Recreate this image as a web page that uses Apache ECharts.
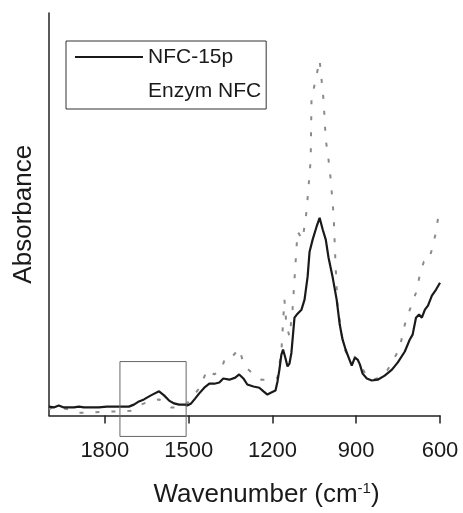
<!DOCTYPE html>
<html>
<head>
<meta charset="UTF-8">
<title>FTIR spectra</title>
<script src="https://cdn.jsdelivr.net/npm/echarts@6/dist/echarts.min.js"></script>
<style>
  html, body { margin: 0; padding: 0; background: #fff; }
  #chart { width: 463px; height: 513px; }
</style>
</head>
<body>
<div id="chart"></div>
<script>
// wavenumber (cm-1) and absorbance (arbitrary units)
const nfcWn = [2000,1983,1965,1947,1911,1893,1875,1822,1793,1750,1714,1696,1678,1660,1635,1606,1588,1570,1552,1534,1513,1505,1491,1477,1462,1444,1426,1408,1390,1376,1354,1333,1319,1304,1290,1268,1247,1232,1218,1204,1189,1182,1175,1168,1162,1154,1146,1139,1132,1121,1110,1096,1085,1074,1067,1056,1042,1031,1020,1009,999,984,970,959,949,938,927,916,905,895,887,877,862,844,823,798,772,751,726,708,698,686,675,665,654,643,629,614,600];
const nfcAbs = [0.022,0.020,0.025,0.020,0.020,0.022,0.020,0.020,0.022,0.022,0.022,0.027,0.035,0.040,0.050,0.060,0.050,0.037,0.030,0.027,0.027,0.025,0.030,0.042,0.055,0.069,0.079,0.079,0.082,0.092,0.089,0.094,0.102,0.092,0.077,0.072,0.069,0.060,0.052,0.057,0.062,0.084,0.114,0.151,0.164,0.144,0.122,0.129,0.156,0.243,0.253,0.263,0.288,0.345,0.407,0.437,0.469,0.491,0.462,0.437,0.392,0.342,0.288,0.226,0.189,0.164,0.144,0.124,0.144,0.139,0.127,0.104,0.092,0.087,0.089,0.099,0.114,0.132,0.159,0.189,0.201,0.243,0.251,0.243,0.263,0.273,0.298,0.313,0.330];

const enzWn = [2000,1983,1929,1893,1857,1800,1750,1707,1671,1642,1606,1563,1534,1505,1487,1462,1433,1408,1383,1369,1347,1319,1301,1275,1240,1204,1182,1168,1157,1150,1139,1128,1110,1092,1078,1063,1060,1053,1038,1031,1024,1017,1009,999,992,981,974,967,952,941,923,905,887,866,844,816,787,762,744,726,708,686,672,658,643,629,614,607,600];
const enzAbs = [0.015,0.022,0.015,0.007,0.007,0.010,0.010,0.012,0.027,0.035,0.040,0.020,0.020,0.030,0.047,0.067,0.114,0.102,0.114,0.144,0.144,0.166,0.124,0.107,0.089,0.089,0.094,0.159,0.288,0.226,0.196,0.263,0.457,0.437,0.506,0.635,0.792,0.809,0.859,0.883,0.834,0.784,0.685,0.635,0.591,0.499,0.375,0.275,0.201,0.164,0.139,0.146,0.129,0.102,0.089,0.094,0.114,0.144,0.169,0.226,0.263,0.305,0.350,0.382,0.382,0.412,0.457,0.491,0.499];

const xTicks = [1800, 1500, 1200, 900, 600];
// highlighted region box, in data units
const boxWn = [1746, 1509];
const boxAbs = [0.134, -0.052];

const FONT = "'Liberation Sans', Arial, sans-serif";
const pairs = (xs, ys) => xs.map((x, i) => [x, ys[i]]);

const chart = echarts.init(document.getElementById("chart"));

const option = {
  animation: false,
  grid: { left: 49, right: 23, top: 13, bottom: 97 },
  legend: {
    left: 66,
    top: 41,
    orient: "vertical",
    borderColor: "#333",
    borderWidth: 1,
    padding: [5, 5, 7, 9],
    icon: "rect",
    itemWidth: 68,
    itemHeight: 2,
    itemGap: 12,
    textStyle: { fontFamily: FONT, fontSize: 21, color: "#1a1a1a", lineHeight: 22 },
    data: [
      { name: "NFC-15p" },
      { name: "Enzym NFC", itemStyle: { opacity: 0 } },
    ],
  },
  xAxis: {
    type: "value",
    inverse: true,
    min: 600,
    max: 2000,
    interval: 300,
    name: "Wavenumber (cm{sup|-1})",
    nameLocation: "middle",
    nameGap: 66,
    nameTextStyle: {
      fontFamily: FONT,
      fontSize: 26,
      color: "#1a1a1a",
      padding: [0, 0, 0, 44],
      rich: { sup: { fontFamily: FONT, fontSize: 15, color: "#1a1a1a", verticalAlign: "top", padding: [0, 0, 12, 0] } },
    },
    axisLine: { lineStyle: { color: "#222", width: 1.5 } },
    axisTick: { show: true, inside: false, length: 8, customValues: xTicks, lineStyle: { color: "#222", width: 1.5 } },
    axisLabel: {
      customValues: xTicks,
      margin: 24,
      fontFamily: FONT,
      fontSize: 22,
      color: "#1a1a1a",
      formatter: (v) => String(v),
    },
    splitLine: { show: false },
  },
  yAxis: {
    type: "value",
    min: 0,
    max: 1,
    name: "Absorbance",
    nameLocation: "middle",
    nameGap: 12,
    nameRotate: 90,
    nameTextStyle: { fontFamily: FONT, fontSize: 26, color: "#1a1a1a" },
    axisLine: { show: true, lineStyle: { color: "#222", width: 1.5 } },
    axisTick: { show: false },
    axisLabel: { show: false },
    splitLine: { show: false },
  },
  series: [
    {
      name: "Enzym NFC",
      type: "line",
      data: pairs(enzWn, enzAbs),
      symbol: "none",
      z: 1,
      lineStyle: { color: "#8a8a8a", width: 2, type: [4, 12] },
      itemStyle: { color: "#8a8a8a" },
    },
    {
      name: "NFC-15p",
      type: "line",
      data: pairs(nfcWn, nfcAbs),
      symbol: "none",
      z: 2,
      lineStyle: { color: "#1a1a1a", width: 2.2 },
      itemStyle: { color: "#1a1a1a" },
    },
  ],
};

chart.setOption(option);

// annotation box, placed through the chart's own scales
const p0 = chart.convertToPixel({ gridIndex: 0 }, [boxWn[0], boxAbs[0]]);
const p1 = chart.convertToPixel({ gridIndex: 0 }, [boxWn[1], boxAbs[1]]);
chart.setOption({
  graphic: [
    {
      type: "rect",
      shape: {
        x: Math.min(p0[0], p1[0]),
        y: Math.min(p0[1], p1[1]),
        width: Math.abs(p1[0] - p0[0]),
        height: Math.abs(p1[1] - p0[1]),
      },
      style: { fill: "none", stroke: "#666", lineWidth: 1 },
      z: 10,
    },
  ],
});
</script>
</body>
</html>
